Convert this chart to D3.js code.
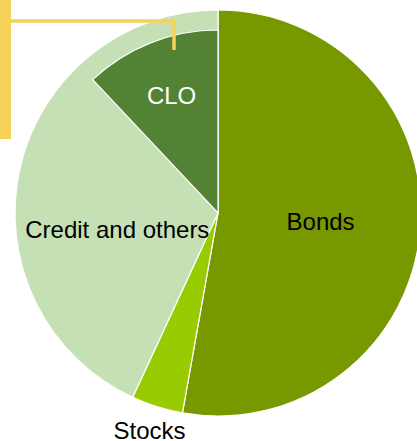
<!DOCTYPE html>
<html>
<head>
<meta charset="utf-8">
<script src="https://cdn.jsdelivr.net/npm/d3@7"></script>
<style>
	body { margin: 0; background: #fff; }
	svg { display: block; }
</style>
</head>
<body>
<svg id="chart" width="417" height="441"></svg>
<script>
// shares of the portfolio (CLO is part of "Credit and others")
var labels = ["Bonds", "Stocks", "Credit and others"];
var shares = [52.8, 4.1, 43.1];
var colors = ["#789800", "#99cc00", "#c5e0b4"];
var cloLabel = "CLO";
var cloShare = 12.0;
var cloColor = "#548235";

var svg = d3.select("#chart"),
	width = +svg.attr("width"),
	height = +svg.attr("height"),
	radius = 203,
	cloRadius = 183,
	g = svg.append("g").attr("transform", "translate(218,213)");

var data = labels.map(function(d, i) { return {label: d, value: shares[i], color: colors[i]}; });

var pie = d3.pie()
	.sort(null)
	.value(function(d) { return d.value; });

var arcs = pie(data);

var arc = d3.arc().innerRadius(0).outerRadius(radius);

g.selectAll("path.slice")
	.data(arcs)
	.enter().append("path")
	.attr("class", "slice")
	.attr("d", arc)
	.attr("fill", function(d) { return d.data.color; })
	.attr("stroke", "#fff")
	.attr("stroke-width", 1.2);

// CLO drawn on top of the credit slice, with a smaller radius
var cloArc = {startAngle: 2 * Math.PI * (1 - cloShare / 100), endAngle: 2 * Math.PI};
var cloPath = d3.arc().innerRadius(0).outerRadius(cloRadius);

g.append("path")
	.attr("d", cloPath(cloArc))
	.attr("fill", cloColor)
	.attr("stroke", "#fff")
	.attr("stroke-width", 1.2);

// labels
var font = "'Liberation Sans', Arial, sans-serif";
var fontSize = 24;

function placeLabel(a, r) {
	var m = (a.startAngle + a.endAngle) / 2;
	return [Math.sin(m) * r, -Math.cos(m) * r];
}

function addLabel(p, txt, fill) {
	g.append("text")
		.attr("x", p[0]).attr("y", p[1])
		.attr("dy", "0.35em")
		.attr("text-anchor", "middle")
		.attr("font-family", font).attr("font-size", fontSize)
		.attr("fill", fill)
		.text(txt);
}

// Bonds inside
addLabel(placeLabel(arcs[0], 103), labels[0], "#000");

// Stocks outside, below the pie
addLabel(placeLabel(arcs[1], 228), labels[1], "#000");

// Credit, centred on the part not covered by CLO
var creditRest = {startAngle: arcs[2].startAngle, endAngle: cloArc.startAngle};
addLabel(placeLabel(creditRest, 102), labels[2], "#000");

addLabel(placeLabel(cloArc, 126), cloLabel, "#fff");

// yellow callout bracket
svg.append("rect")
	.attr("x", 0).attr("y", 0)
	.attr("width", 11).attr("height", 139)
	.attr("fill", "#f5d25a");

svg.append("path")
	.attr("d", "M10,21H174V50")
	.attr("fill", "none")
	.attr("stroke", "#f5d25a")
	.attr("stroke-width", 3.5);
</script>
</body>
</html>
